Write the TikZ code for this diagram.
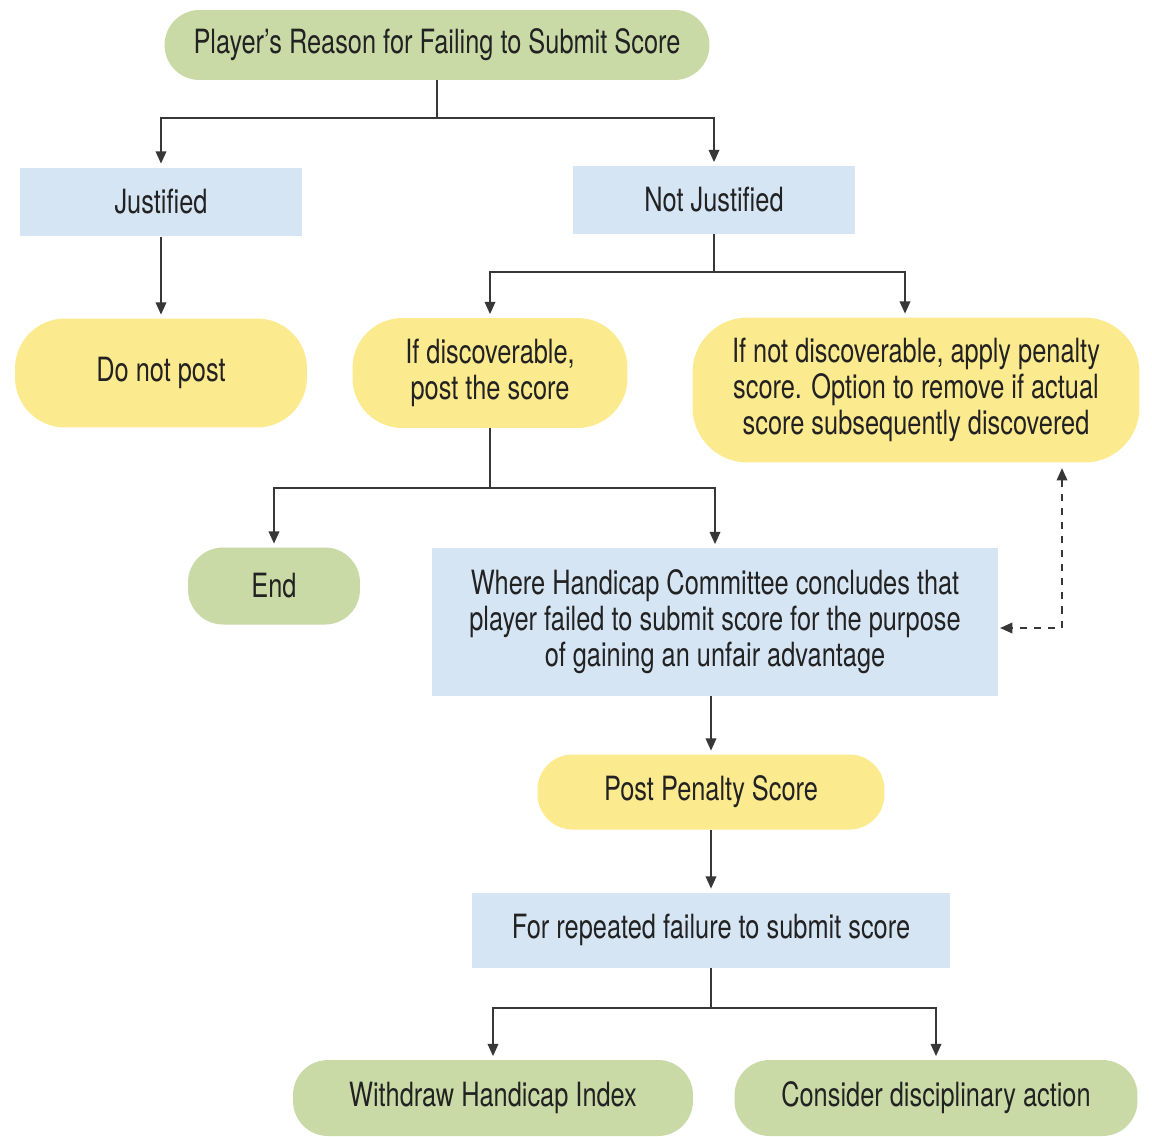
\documentclass[tikz,border=0pt]{standalone}
\usepackage{fontspec}
\setmainfont[FakeStretch=0.76]{TeX Gyre Heros}
\usepackage{tikz}
\usetikzlibrary{arrows.meta,shapes,positioning}
\usepackage{color}
\definecolor{boxgreen}{RGB}{201,218,167}
\definecolor{boxyellow}{RGB}{252,234,142}
\definecolor{boxblue}{RGB}{214,229,244}
\definecolor{linegray}{RGB}{55,55,55}
\definecolor{textgray}{RGB}{34,34,34}

\tikzset{
  every node/.style={font=\fontsize{19}{20.5}\selectfont, text=textgray, align=center, inner sep=0pt},
  bluebox/.style={fill=boxblue},
  greenpill/.style={fill=boxgreen, rounded corners=0.7cm},
  yellowpill/.style={fill=boxyellow, rounded corners=0.7cm},
  arr/.style={draw=linegray, line width=1.1pt, -{Triangle[length=7pt,width=6pt]}, shorten >=2pt},
  dasharr/.style={draw=linegray, line width=1pt, dash pattern=on 4pt off 4pt,
    {Triangle[length=7pt,width=6pt]}-{Triangle[length=7pt,width=6pt]}, shorten >=1pt, shorten <=3pt}
}

\begin{document}
\begin{tikzpicture}[x=0.02cm,y=-0.02cm]
\fill[white] (0,0) rectangle (1152,1136);
\useasboundingbox (0,0) rectangle (1152,1136);

% boxes
\node[greenpill, minimum width=10.9cm, minimum height=1.4cm] (reason) at (437,45) {Player's Reason for Failing to Submit Score};
\node[bluebox, minimum width=5.64cm, minimum height=1.38cm] (just) at (161,202) {Justified};
\node[bluebox, minimum width=5.66cm, minimum height=1.36cm] (notjust) at (714,200) {Not Justified};
\node[yellowpill, rounded corners=1cm, minimum width=5.84cm, minimum height=2.18cm] (nopost) at (161,373) {Do not post};
\node[yellowpill, rounded corners=1cm, minimum width=5.5cm, minimum height=2.2cm] (disc) at (490,373) {If discoverable,\\post the score};
\node[yellowpill, rounded corners=1.1cm, minimum width=8.94cm, minimum height=2.9cm] (notdisc) at (916,390) {If not discoverable, apply penalty\\score. Option to remove if actual\\score subsequently discovered};
\node[greenpill, minimum width=3.44cm, minimum height=1.54cm] (endn) at (274,586) {End};
\node[bluebox, minimum width=11.32cm, minimum height=2.96cm] (where) at (715,622) {Where Handicap Committee concludes that\\player failed to submit score for the purpose\\of gaining an unfair advantage};
\node[yellowpill, minimum width=6.94cm, minimum height=1.5cm] (penalty) at (711,792) {Post Penalty Score};
\node[bluebox, minimum width=9.56cm, minimum height=1.5cm] (repeated) at (711,930) {For repeated failure to submit score};
\node[greenpill, minimum width=8cm, minimum height=1.52cm] (withdraw) at (493,1098) {Withdraw Handicap Index};
\node[greenpill, minimum width=8.06cm, minimum height=1.52cm] (consider) at (936,1098) {Consider disciplinary action};

% connectors
\draw[arr] (reason.south) -- ++(0,38) -| (just.north);
\draw[arr] (reason.south) -- ++(0,38) -| (notjust.north);
\draw[arr] (just) -- (nopost);
\draw[arr] (notjust.south) -- ++(0,38) -| (disc.north);
\draw[arr] (notjust.south) -- ++(0,38) -| ([xshift=-0.22cm]notdisc.north);
\draw[arr] (disc.south) -- ++(0,60) -| (endn.north);
\draw[arr] (disc.south) -- ++(0,60) -| (where.north);
\coordinate (dashcorner) at (1062,628);
\draw[dasharr] (notdisc.south -| dashcorner) -- (dashcorner) -- (dashcorner -| where.east);
\draw[arr] (where.south -| penalty.north) -- (penalty.north);
\draw[arr] (penalty) -- (repeated);
\draw[arr] (repeated.south) -- ++(0,40) -| (withdraw.north);
\draw[arr] (repeated.south) -- ++(0,40) -| (consider.north);
\end{tikzpicture}
\end{document}
